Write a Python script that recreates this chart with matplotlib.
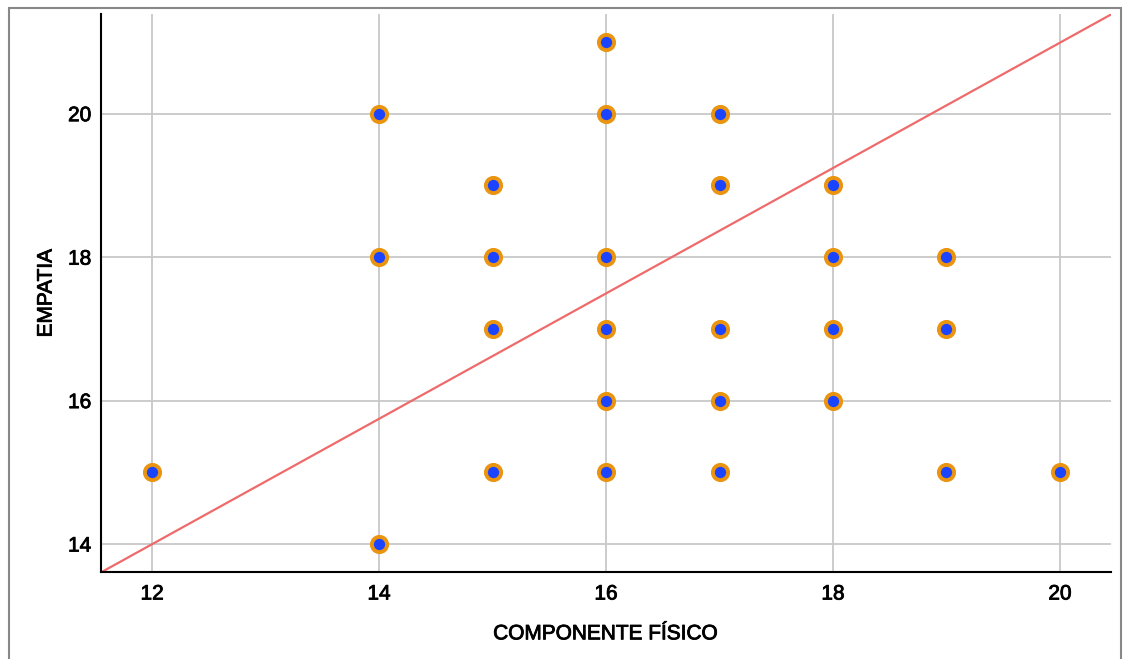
import matplotlib
matplotlib.use("Agg")
import matplotlib.pyplot as plt
import matplotlib.patheffects as pe
import numpy as np
from matplotlib.patches import Rectangle

plt.rcParams['font.family'] = ['Liberation Sans', 'DejaVu Sans']

componente = [12, 14, 14, 14, 15, 15, 15, 15, 16, 16, 16, 16, 16, 16,
              17, 17, 17, 17, 17, 18, 18, 18, 18, 19, 19, 19, 20]
empatia = [15, 20, 18, 14, 19, 18, 17, 15, 21, 20, 18, 17, 16, 15,
           20, 19, 17, 16, 15, 19, 18, 17, 16, 18, 17, 15, 15]

line_intercept = 3.51
line_slope = 0.874

x_ticks = [12, 14, 16, 18, 20]
y_ticks = [14, 16, 18, 20]

fig = plt.figure(figsize=(11.25, 6.59), dpi=100)
ax = fig.add_axes([0.0898, 0.132, 0.8978, 0.8468])

xlim = (11.55, 20.45)
ylim = (13.61, 21.39)
ax.set_xlim(*xlim)
ax.set_ylim(*ylim)

ax.grid(True, color='#c8c8c8', linewidth=1.3, zorder=0)
ax.set_axisbelow(True)

xs = np.array(xlim)
ax.plot(xs, line_intercept + line_slope * xs, color='#ef6a6a', linewidth=1.6, zorder=2)

ax.scatter(componente, empatia, s=120, facecolor='#1a44ff', edgecolor='#ea9410',
           linewidths=2.8, zorder=3)

ax.set_xticks(x_ticks)
ax.set_yticks(y_ticks)
ax.tick_params(axis='both', length=0, labelsize=15)
ax.tick_params(axis='y', pad=7)
ax.tick_params(axis='x', pad=9)
for s in ['top', 'right']:
    ax.spines[s].set_visible(False)
for s in ['left', 'bottom']:
    ax.spines[s].set_color('black')
    ax.spines[s].set_linewidth(1.5)

ax.set_xlabel('COMPONENTE FÍSICO', fontsize=15, labelpad=15)
ax.set_ylabel('EMPATIA', fontsize=15, labelpad=9)

thick = [pe.withStroke(linewidth=0.6, foreground='black')]
for t in ax.get_xticklabels() + ax.get_yticklabels() + [ax.xaxis.label, ax.yaxis.label]:
    t.set_path_effects(thick)

fig.patches.append(Rectangle((9/1125, -0.1), (1121-9)/1125, 1.1 - 8/659,
                             transform=fig.transFigure, fill=False,
                             edgecolor='#888888', linewidth=1.5))

fig.savefig('out.png', dpi=100, facecolor='white')
